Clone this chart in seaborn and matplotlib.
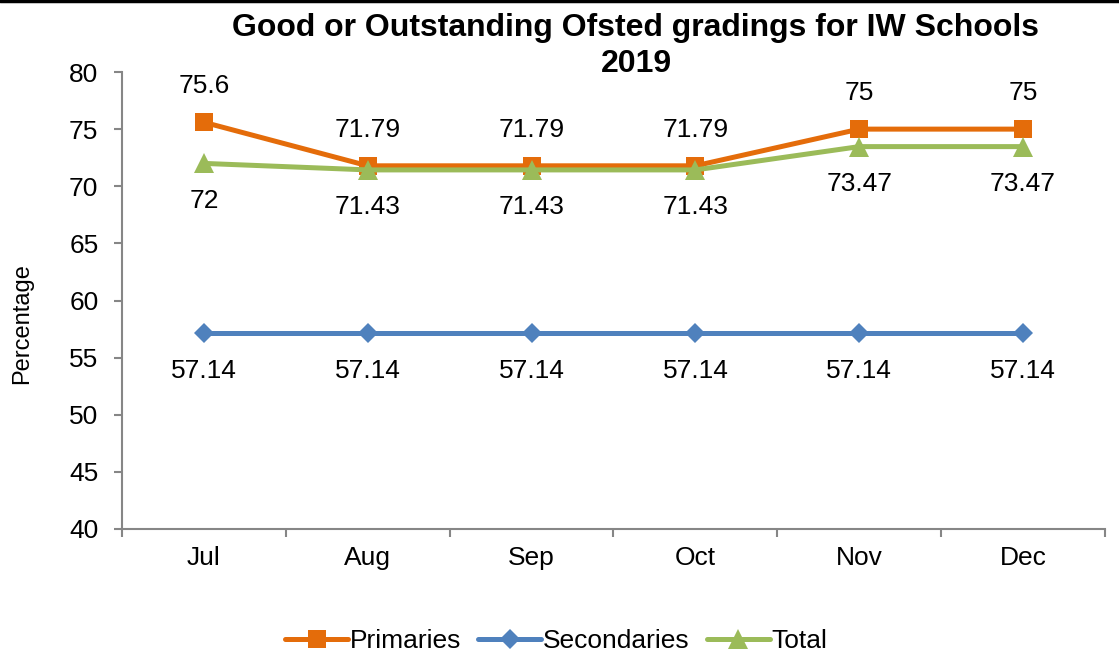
import numpy as np
import pandas as pd
import matplotlib
matplotlib.use("Agg")
import matplotlib.pyplot as plt
import seaborn as sns
from matplotlib.lines import Line2D

months = ["Jul", "Aug", "Sep", "Oct", "Nov", "Dec"]
primaries = [75.6, 71.79, 71.79, 71.79, 75, 75]
secondaries = [57.14, 57.14, 57.14, 57.14, 57.14, 57.14]
total = [72, 71.43, 71.43, 71.43, 73.47, 73.47]
series_names = ["Primaries", "Secondaries", "Total"]

colors = {"Primaries": "#E46C0A", "Secondaries": "#4F81BD", "Total": "#9BBB59"}
markers = {"Primaries": "s", "Secondaries": "D", "Total": "^"}
msizes = {"Primaries": 13, "Secondaries": 10, "Total": 14}

sns.set_theme(style="white")
plt.rcParams["font.family"] = ["Liberation Sans", "DejaVu Sans"]
plt.rcParams["text.color"] = "black"

df = pd.DataFrame({
    "Month": months * 3,
    "Series": ["Primaries"] * 6 + ["Secondaries"] * 6 + ["Total"] * 6,
    "Value": primaries + secondaries + total,
})

fig = plt.figure(figsize=(11.19, 6.59), dpi=100)
ax = fig.add_axes([122 / 1119, 1 - 529 / 659, (1105 - 122) / 1119, (529 - 72) / 659])

# draw order: Primaries, Secondaries, Total (Total on top)
for name in series_names:
    sub = df[df["Series"] == name]
    sns.lineplot(
        data=sub, x="Month", y="Value", ax=ax, color=colors[name],
        linewidth=3.6, marker=markers[name], markersize=msizes[name],
        markeredgewidth=0, label=name, legend=False, sort=False,
    )

# data labels
lab = dict(textcoords="offset points", ha="center", va="center", fontsize=19, color="black")
for i, m in enumerate(months):
    ax.annotate(f"{primaries[i]:g}", (i, primaries[i]), xytext=(0, 26), **lab)
    ax.annotate(f"{total[i]:g}", (i, total[i]), xytext=(0, -27), **lab)
    ax.annotate(f"{secondaries[i]:g}", (i, secondaries[i]), xytext=(0, -27), **lab)

ax.set_xlim(-0.5, len(months) - 0.5)
ax.set_ylim(40, 80)
ax.set_yticks(np.arange(40, 81, 5))
ax.set_xlabel("")
ax.set_ylabel("")

axis_color = "#868686"
for side in ["top", "right"]:
    ax.spines[side].set_visible(False)
for side in ["left", "bottom"]:
    ax.spines[side].set_color(axis_color)
    ax.spines[side].set_linewidth(1.5)

ax.tick_params(axis="y", which="major", direction="out", length=6, width=1.5,
               color=axis_color, pad=11, labelsize=19, labelcolor="black", left=True)
ax.tick_params(axis="x", which="major", length=0, pad=12, labelsize=19, labelcolor="black")
ax.set_xticks(np.arange(-0.5, len(months), 1), minor=True)
ax.tick_params(axis="x", which="minor", direction="out", length=6, width=1.5,
               color=axis_color, bottom=True)

fig.text(636 / 1119, 1 - 28 / 659, "Good or Outstanding Ofsted gradings for IW Schools",
         ha="center", va="center", fontsize=23, fontweight="bold")
fig.text(636 / 1119, 1 - 64 / 659, "2019",
         ha="center", va="center", fontsize=23, fontweight="bold")
fig.text(22 / 1119, 1 - 324 / 659, "Percentage", rotation=90,
         ha="center", va="center", fontsize=17)

handles = [Line2D([], [], color=colors[n], linewidth=3.6, marker=markers[n],
                  markersize=msizes[n], markeredgewidth=0) for n in series_names]
fig.legend(handles, series_names, loc="center", bbox_to_anchor=(556 / 1119, 1 - 641 / 659),
           ncol=3, frameon=False, fontsize=19, handlelength=2.4, handletextpad=0.05,
           columnspacing=0.65)

# top border line
fig.add_artist(Line2D([0, 1], [1 - 1 / 659, 1 - 1 / 659], transform=fig.transFigure,
                      color="black", linewidth=2.5))

fig.savefig("out.png", dpi=100)
